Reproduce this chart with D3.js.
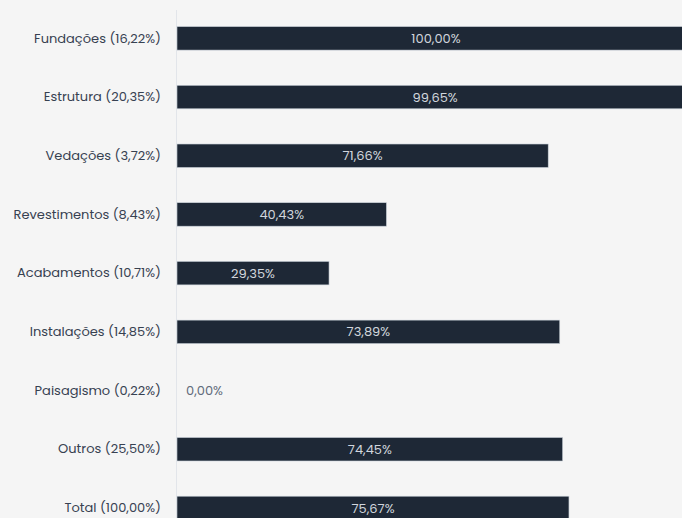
<!DOCTYPE html>
<html>
<head>
<meta charset="utf-8">
<script src="https://cdn.jsdelivr.net/npm/d3@7"></script>
<style>
  html, body { margin: 0; padding: 0; background: #f5f5f5; }
  svg { display: block; }
</style>
</head>
<body>
<svg id="chart" width="682" height="518"></svg>
<script>
const categories = ["Fundações (16,22%)", "Estrutura (20,35%)", "Vedações (3,72%)", "Revestimentos (8,43%)", "Acabamentos (10,71%)", "Instalações (14,85%)", "Paisagismo (0,22%)", "Outros (25,50%)", "Total (100,00%)"];
const values = [100.00, 99.65, 71.66, 40.43, 29.35, 73.89, 0.00, 74.45, 75.67];
const valueLabels = ["100,00%", "99,65%", "71,66%", "40,43%", "29,35%", "73,89%", "0,00%", "74,45%", "75,67%"];

const data = categories.map((c, i) => ({ cat: c, value: values[i], label: valueLabels[i] }));

const svg = d3.select("#chart");
const W = 682, H = 518;
const left = 177;
const font = "Poppins, Inter, 'Noto Sans', sans-serif";

svg.append("rect").attr("width", W).attr("height", H).attr("fill", "#f5f5f5");

const x = d3.scaleLinear().domain([0, 100]).range([left, 695]);
const y = d3.scaleBand().domain(categories).range([9, 9 + 9 * 58.7]).paddingInner(0.6).paddingOuter(0.3);

// axis line
svg.append("line")
  .attr("x1", left - 0.5).attr("x2", left - 0.5)
  .attr("y1", 10).attr("y2", H)
  .attr("stroke", "#e2e5ea").attr("stroke-width", 1);

// category labels
const yAxis = d3.axisLeft(y).tickSize(0).tickPadding(15);
const ga = svg.append("g").attr("transform", `translate(${left - 1},0)`).call(yAxis);
ga.select(".domain").remove();
ga.selectAll("text")
  .attr("font-family", font)
  .attr("font-size", 13)
  .attr("fill", "#374151");

// bars
svg.selectAll("rect.bar").data(data).enter().append("rect")
  .attr("class", "bar")
  .attr("x", x(0))
  .attr("y", d => y(d.cat))
  .attr("width", d => x(d.value) - x(0))
  .attr("height", y.bandwidth())
  .attr("fill", "#1e2836")
  .attr("stroke", d => d.value > 0 ? "#c9d0d8" : "none")
  .attr("stroke-width", 0.6);

// value labels
svg.selectAll("text.val").data(data).enter().append("text")
  .attr("class", "val")
  .attr("x", d => d.value > 0 ? (x(0) + x(d.value)) / 2 : x(0) + 9)
  .attr("y", d => y(d.cat) + y.bandwidth() / 2)
  .attr("dy", "0.35em")
  .attr("text-anchor", d => d.value > 0 ? "middle" : "start")
  .attr("font-family", font)
  .attr("font-size", 13)
  .attr("fill", d => d.value > 0 ? "#d1d6dd" : "#5f6b7a")
  .text(d => d.label);
</script>
</body>
</html>
